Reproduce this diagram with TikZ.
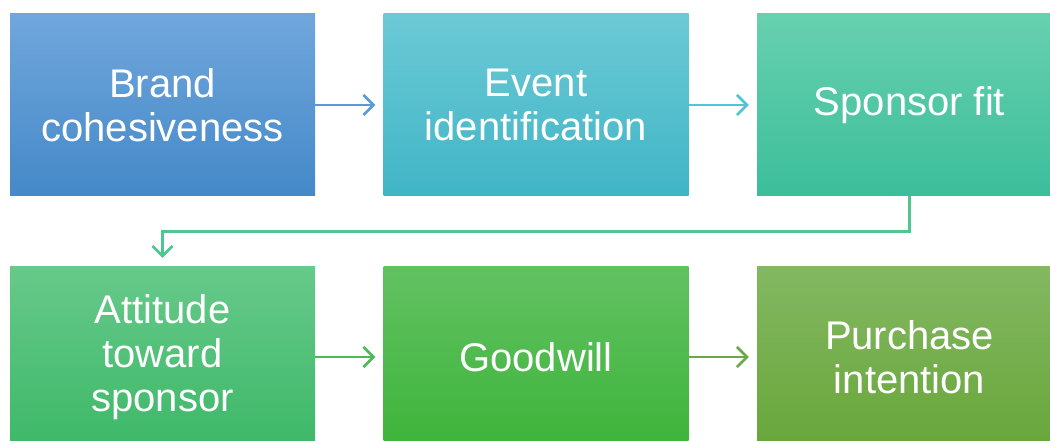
\documentclass[tikz,border=0pt]{standalone}
\usepackage{fontspec}
\setmainfont{Liberation Sans}
\usetikzlibrary{arrows.meta}

\definecolor{bAtop}{HTML}{70A6DC}\definecolor{bAbot}{HTML}{4489C8}
\definecolor{bBtop}{HTML}{6CC9D5}\definecolor{bBbot}{HTML}{40B5C6}
\definecolor{bCtop}{HTML}{67D0AF}\definecolor{bCbot}{HTML}{3CBE9A}
\definecolor{bDtop}{HTML}{67C98A}\definecolor{bDbot}{HTML}{3DB868}
\definecolor{bEtop}{HTML}{62C162}\definecolor{bEbot}{HTML}{3DB43A}
\definecolor{bFtop}{HTML}{83B862}\definecolor{bFbot}{HTML}{68A63A}
\definecolor{lnA}{HTML}{5B9ADA}
\definecolor{lnB}{HTML}{4FC6D3}
\definecolor{lnC}{HTML}{4FC68F}
\definecolor{lnD}{HTML}{4BBB55}
\definecolor{lnE}{HTML}{6AAA45}

\tikzset{
  stagebox/.style={rectangle, minimum width=305pt, minimum height=182pt,
    inner sep=0pt, text=white, align=center,
    font=\fontsize{40}{44}\selectfont},
  flowarrow/.style={line width=2.6pt,
    -{Straight Barb[length=10pt,width=20pt,line width=2.6pt]},
    shorten >=8pt}
}

\begin{document}
\begin{tikzpicture}[x=1pt,y=-1pt]
  \clip (0,0) rectangle (1050,441);
  \fill[white] (0,0) rectangle (1050,441);

  % top row
  \node[stagebox, top color=bAtop, bottom color=bAbot] (brand) at (162.5,105) {Brand\\cohesiveness};
  \node[stagebox, top color=bBtop, bottom color=bBbot] (event) at (536,105) {Event\\identification};
  \node[stagebox, top color=bCtop, bottom color=bCbot] (fit) at (909.5,105) {Sponsor fit};

  % bottom row
  \node[stagebox, top color=bDtop, bottom color=bDbot] (attitude) at (162.5,357) {Attitude\\toward\\sponsor};
  \node[stagebox, top color=bEtop, bottom color=bEbot] (goodwill) at (536,357) {Goodwill};
  \node[stagebox, top color=bFtop, bottom color=bFbot] (purchase) at (909.5,357) {Purchase\\intention};

  % connectors
  \draw[flowarrow, lnA] (brand.east) -- (event.west);
  \draw[flowarrow, lnB] (event.east) -- (fit.west);
  \draw[flowarrow, lnC] (fit.south) -- ++(0,35) -| (attitude.north);
  \draw[flowarrow, lnD] (attitude.east) -- (goodwill.west);
  \draw[flowarrow, lnE] (goodwill.east) -- (purchase.west);
\end{tikzpicture}
\end{document}
